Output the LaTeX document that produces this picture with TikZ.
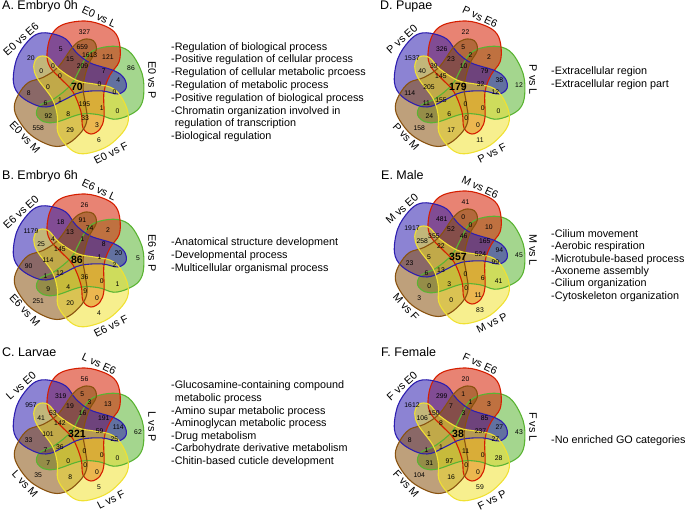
\documentclass[tikz,border=0pt]{standalone}
\usepackage{fontspec}
\setmainfont{Liberation Sans}
\usetikzlibrary{positioning}
\definecolor{setred}{RGB}{213,30,0}
\definecolor{setblue}{RGB}{45,30,175}
\definecolor{setgreen}{RGB}{90,180,50}
\definecolor{setyellow}{RGB}{240,225,50}
\definecolor{setbrown}{RGB}{137,82,15}

\tikzset{
  regnum/.style={font=\fontsize{6.8}{8}\selectfont, inner sep=0pt},
  setlabel/.style={font=\fontsize{10.8}{13}\selectfont, inner sep=0pt},
  paneltitle/.style={font=\fontsize{12.5}{15}\selectfont, anchor=base west, inner sep=0pt},
  goterm/.style={font=\fontsize{10.8}{13}\selectfont, anchor=base west, inner sep=0pt},
  vennblob/.style={insert path={plot[smooth cycle, tension=.6] coordinates {(8,66) (28,61) (39,53) (43,40) (42,25) (33,12) (27,-5) (27,-30) (23,-42) (14,-47) (6,-41) (4,-25) (-4,-5) (-16,8) (-27,20) (-30,33) (-26,51) (-15,62)}}}
}

% one five-set panel: prefix, centre, slot of the right-only count, counts, labels
\newcommand{\vennpanel}[9]{%
  \begin{scope}[shift={#2}]
    \foreach \ang/\col in {-72/setgreen,0/setred,72/setblue,144/setbrown,216/setyellow}
      \fill[\col, fill opacity=.55, rotate=\ang, vennblob];
    \foreach \ang/\col in {-72/setgreen,0/setred,72/setblue,144/setbrown,216/setyellow}
      \draw[\col, line width=1.1pt, rotate=\ang, vennblob];
    \foreach \x/\y [count=\i] in {7.5/55.2, -46/28.7, -16.3/38.2, 5.3/40, 12.6/32.1, 30.9/29.9, 61/2, -7/28.3, -24.1/21, 5.6/20.5, -35.8/15.6, -17.1/10.5, 26.7/15.6, 41.3/7.3, -29/0.2, 0/0, 22.6/2.9, 37.4/-5.4, -48.3/-5.8, -17/-12.8, -31.6/-16.3, 7.6/-16.9, 24.8/-21.4, 40.6/-24.5, -28.7/-28.8, -8.7/-27.6, 8.2/-31.4, 20.1/-38.1, -38.8/-41.2, -6.8/-43.4, 22/-53}
      \coordinate (#1s\i) at (\x,\y);
    \coordinate (#1s7) at #3;
    \foreach \n [count=\i] in {#4}
      \node[regnum] (#1n\i) at (#1s\i) {\ifnum\i=16 \fontsize{10.5}{12}\selectfont\bfseries\fi\n};
    \node[setlabel, rotate=-25] (#1top) at (22,70) {#5};
    \node[setlabel, rotate=42] (#1upleft) at (-56,48) {#6};
    \node[setlabel, rotate=-90] (#1right) at (75,7) {#7};
    \node[setlabel, rotate=27] (#1bottom) at (34,-66) {#8};
    \node[setlabel, rotate=-47] (#1lowleft) at (-52,-50) {#9};
  \end{scope}}

\begin{document}
\begin{tikzpicture}[x=1pt, y=1pt]
\useasboundingbox (0,0) rectangle (685,-511);

% A. Embryo 0h
\node[paneltitle] (atitle) at (2,-9.5) {A. Embryo 0h};
\vennpanel{a}{(77,-87)}{(54,19)}{327,20,5,659,1613,121,86,15,0,209,0,0,7,4,0,70,0,0,8,1,6,195,1,0,92,8,33,3,558,29,6}{E0 vs L}{E0 vs E6}{E0 vs P}{E0 vs F}{E0 vs M}
\foreach \t [count=\i] in {-Regulation of biological process, -Positive regulation of cellular process, -Regulation of cellular metabolic prcoess, -Regulation of metabolic process, -Positive regulation of biological process, -Chromatin organization involved in, \phantom{-}regulation of transcription, -Biological regulation}
  \node[goterm] (ago\i) at (171,{-50.1-12.8*(\i-1)}) {\t};

% B. Embryo 6h
\node[paneltitle] (btitle) at (2,-179) {B. Embryo 6h};
\vennpanel{b}{(77,-260)}{(61,2)}{26,1179,18,91,74,2,5,13,4,1,25,145,8,20,114,86,1,2,90,12,1,36,0,1,9,4,9,0,251,20,4}{E6 vs L}{E6 vs E0}{E6 vs P}{E6 vs F}{E6 vs M}
\foreach \t [count=\i] in {-Anatomical structure development, -Developmental process, -Multicellular organismal process}
  \node[goterm] (bgo\i) at (171,{-245.4-12.8*(\i-1)}) {\t};

% C. Larvae
\node[paneltitle] (ctitle) at (2,-356.7) {C. Larvae};
\vennpanel{c}{(77,-434)}{(61,2)}{56,957,319,5,3,13,62,19,53,16,41,142,191,114,101,321,59,25,33,36,7,0,0,0,7,0,0,0,35,8,5}{L vs E6}{L vs E0}{L vs P}{L vs F}{L vs M}
\foreach \t [count=\i] in {-Glucosamine-containing compound, \phantom{-}metabolic process, -Amino supar metabolic process, -Aminoglycan metabolic process, -Drug metabolism, -Carbohydrate derivative metabolism, -Chitin-based cuticle development}
  \node[goterm] (cgo\i) at (171,{-388.9-12.6*(\i-1)}) {\t};

% D. Pupae
\node[paneltitle] (dtitle) at (380,-9.3) {D. Pupae};
\vennpanel{d}{(458,-87)}{(61,2)}{22,1537,326,5,2,2,12,23,39,10,40,145,79,38,205,179,32,12,114,155,11,0,0,0,24,6,0,0,158,17,11}{P vs E6}{P vs E0}{P vs L}{P vs F}{P vs M}
\foreach \t [count=\i] in {-Extracellular region, -Extracellular region part}
  \node[goterm] (dgo\i) at (551,{-74.6-12.4*(\i-1)}) {\t};

% E. Male
\node[paneltitle] (etitle) at (381,-179) {E. Male};
\vennpanel{e}{(458,-257)}{(61,2)}{41,1917,481,0,0,10,45,52,355,46,258,22,165,94,5,357,524,99,23,13,6,0,6,41,0,3,0,11,3,0,83}{M vs E6}{M vs E0}{M vs L}{M vs P}{M vs F}
\foreach \t [count=\i] in {-Cilium movement, -Aerobic respiration, -Microtubule-based process, -Axoneme assembly, -Cilium organization, -Cytoskeleton organization}
  \node[goterm] (ego\i) at (551,{-237.2-12.4*(\i-1)}) {\t};

% F. Female
\node[paneltitle] (ftitle) at (381,-356.7) {F. Female};
\vennpanel{f}{(458,-434)}{(61,2)}{20,1612,299,1,1,3,43,7,150,3,106,8,85,27,1,38,237,27,8,1,1,11,0,28,31,97,0,0,104,16,59}{F vs E6}{F vs E0}{F vs L}{F vs P}{F vs M}
\node[goterm] (fgo1) at (551,-443.9) {-No enriched GO categories};
\end{tikzpicture}
\end{document}
